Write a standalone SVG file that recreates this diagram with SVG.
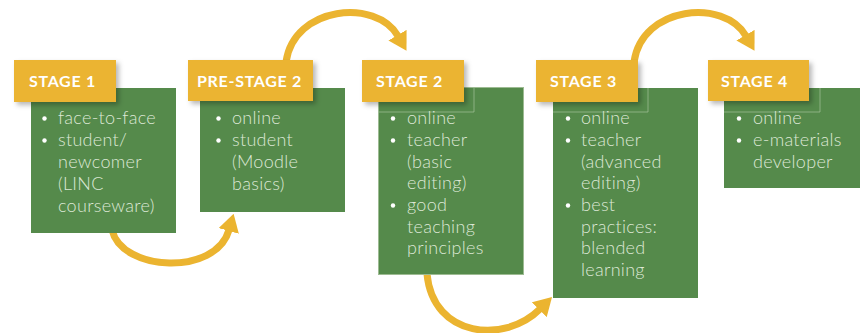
<svg xmlns="http://www.w3.org/2000/svg" width="860" height="333" viewBox="0 0 860 333">
  <defs>
    <filter id="labelShadow" x="-10%" y="-20%" width="130%" height="160%">
      <feDropShadow dx="3" dy="3" stdDeviation="2.5" flood-color="#000" flood-opacity="0.28"/>
    </filter>
    <marker id="head" viewBox="0 0 18 21" refX="1" refY="10.5" markerWidth="18" markerHeight="21" markerUnits="userSpaceOnUse" orient="auto">
      <path d="M0,0 L18,10.5 L0,21 Z" fill="#ebb430"/>
    </marker>
    <style>
      .flow { fill: none; stroke: #ebb430; stroke-width: 7; marker-end: url(#head); }
      .box { fill: #558a4b; }
      .edge { fill: none; stroke: #9dbb92; stroke-width: 1; }
      .frame { fill: none; stroke: #a9c49f; stroke-width: 1; opacity: 0.65; }
      .tab { fill: #ebb431; filter: url(#labelShadow); }
      .tabtext { font-family: Lato, "Open Sans", "Liberation Sans", sans-serif; font-weight: 700; font-size: 16px; letter-spacing: 0.7px; fill: #ffffff; }
      .item { font-family: Lato, "Open Sans", "Liberation Sans", sans-serif; font-weight: 300; font-size: 18px; letter-spacing: 0.3px; fill: #dde8d6; }
      .dot { fill: #ffffff; }
    </style>
  </defs>

  <!-- curved arrows linking the stages -->
  <g id="connectors">
    <path class="flow" d="M112,230 C122,272 216,276 229,230"/>
    <path class="flow" d="M286,62 C294,6 376,-2 398,36"/>
    <path class="flow" d="M427,274 C433,338 505,344 540,309"/>
    <path class="flow" d="M634,62 C642,6 724,-2 746,36"/>
  </g>

  <g id="stage1">
    <rect class="box" x="31" y="88" width="145" height="145"/>
    <rect class="tab" x="14" y="60" width="102" height="42"/>
    <text class="tabtext" x="29" y="87">STAGE 1</text>
    <circle class="dot" cx="44.5" cy="118.5" r="2.2"/>
    <circle class="dot" cx="44.5" cy="140.5" r="2.2"/>
    <text class="item">
      <tspan x="58" y="124">face-to-face</tspan>
      <tspan x="58" y="146">student/</tspan>
      <tspan x="58" y="168">newcomer</tspan>
      <tspan x="58" y="190">(LINC</tspan>
      <tspan x="58" y="212">courseware)</tspan>
    </text>
  </g>

  <g id="prestage2">
    <rect class="box" x="200" y="88" width="145" height="124"/>
    <rect class="tab" x="188" y="60" width="125" height="41"/>
    <text class="tabtext" x="197" y="87">PRE-STAGE 2</text>
    <circle class="dot" cx="218.5" cy="118.5" r="2.2"/>
    <circle class="dot" cx="218.5" cy="140.5" r="2.2"/>
    <text class="item">
      <tspan x="232" y="124">online</tspan>
      <tspan x="232" y="146">student</tspan>
      <tspan x="232" y="168">(Moodle</tspan>
      <tspan x="232" y="190">basics)</tspan>
    </text>
  </g>

  <g id="stage2">
    <rect class="box" x="378.5" y="87.5" width="145" height="187"/>
    <rect class="edge" x="378.5" y="87.5" width="145" height="187"/>
    <polyline class="frame" points="378.5,112 474,112 474,88"/>
    <rect class="tab" x="362" y="60" width="102" height="42"/>
    <text class="tabtext" x="376" y="87">STAGE 2</text>
    <circle class="dot" cx="393" cy="118.5" r="2.2"/>
    <circle class="dot" cx="393" cy="140.5" r="2.2"/>
    <circle class="dot" cx="393" cy="205.5" r="2.2"/>
    <text class="item">
      <tspan x="407" y="124">online</tspan>
      <tspan x="407" y="146">teacher</tspan>
      <tspan x="407" y="167.5">(basic</tspan>
      <tspan x="407" y="189">editing)</tspan>
      <tspan x="407" y="211">good</tspan>
      <tspan x="407" y="232.5">teaching</tspan>
      <tspan x="407" y="254">principles</tspan>
    </text>
  </g>

  <g id="stage3">
    <rect class="box" x="553" y="88" width="145" height="210"/>
    <polyline class="frame" points="553,112 648,112 648,88"/>
    <rect class="tab" x="536" y="60" width="102" height="42"/>
    <text class="tabtext" x="550" y="87">STAGE 3</text>
    <circle class="dot" cx="568" cy="118.5" r="2.2"/>
    <circle class="dot" cx="568" cy="140.5" r="2.2"/>
    <circle class="dot" cx="568" cy="205.5" r="2.2"/>
    <text class="item">
      <tspan x="581" y="124">online</tspan>
      <tspan x="581" y="146">teacher</tspan>
      <tspan x="581" y="167.5">(advanced</tspan>
      <tspan x="581" y="189">editing)</tspan>
      <tspan x="581" y="211">best</tspan>
      <tspan x="581" y="232.5">practices:</tspan>
      <tspan x="581" y="254">blended</tspan>
      <tspan x="581" y="275.5">learning</tspan>
    </text>
  </g>

  <g id="stage4">
    <rect class="box" x="724" y="88" width="136" height="100"/>
    <polyline class="frame" points="724,112 820,112 820,88"/>
    <rect class="tab" x="708" y="60" width="101" height="41"/>
    <text class="tabtext" x="721" y="87">STAGE 4</text>
    <circle class="dot" cx="739" cy="118.5" r="2.2"/>
    <circle class="dot" cx="739" cy="140.5" r="2.2"/>
    <text class="item">
      <tspan x="753" y="124">online</tspan>
      <tspan x="753" y="146">e-materials</tspan>
      <tspan x="753" y="167.5">developer</tspan>
    </text>
  </g>
</svg>
